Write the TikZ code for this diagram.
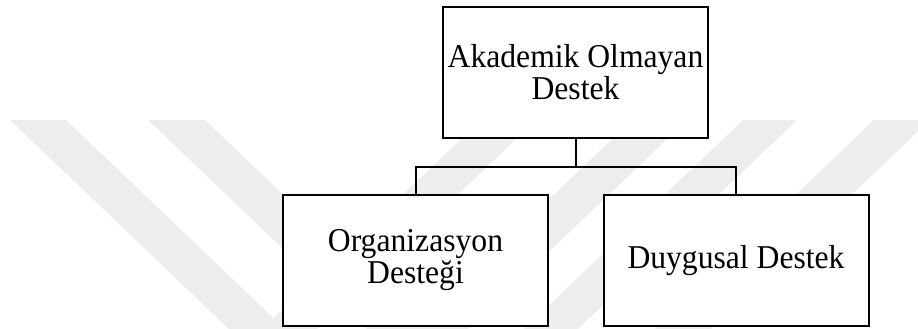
\documentclass[tikz,border=0pt]{standalone}
\usepackage{fontspec}
\setmainfont{Liberation Serif}[FakeStretch=0.95]
\begin{document}
\begin{tikzpicture}[x=1pt,y=-1pt,
  box/.style={draw=black,line width=2pt,fill=white,minimum width=265pt,minimum height=131pt,
    inner sep=0pt,align=center,font=\fontsize{33.3}{32}\selectfont},
  link/.style={draw=black,line width=2pt},
  stripe/.style={fill=black!7,draw=none}]
\useasboundingbox (0,0) rectangle (918,329);
% faint diagonal stripes in the background
\begin{scope}
  \clip (0,0) rectangle (918,329);
  \fill[stripe] (10,120) -- (66,120) -- (285,329) -- (229,329) -- cycle;
  \fill[stripe] (148,120) -- (205,120) -- (424,329) -- (367,329) -- cycle;
  \fill[stripe] (481,120) -- (536,120) -- (317,329) -- (262,329) -- cycle;
  \fill[stripe] (632,120) -- (687,120) -- (468,329) -- (413,329) -- cycle;
  \fill[stripe] (743,120) -- (797,120) -- (578,329) -- (524,329) -- cycle;
  \fill[stripe] (874,120) -- (930,120) -- (711,329) -- (655,329) -- cycle;
\end{scope}
% boxes
\node[box] (top) at (575.5,72.5) {Akademik Olmayan\\Destek};
\node[box] (org) at (415.5,260) {Organizasyon\\Desteği};
\node[box] (duy) at (736,260.5) {Duygusal Destek};
% connectors
\coordinate (bus) at (575.5,167);
\draw[link] (top.south) -- (bus);
\draw[link] (org.north) |- (bus) -| (duy.north);
\end{tikzpicture}
\end{document}
